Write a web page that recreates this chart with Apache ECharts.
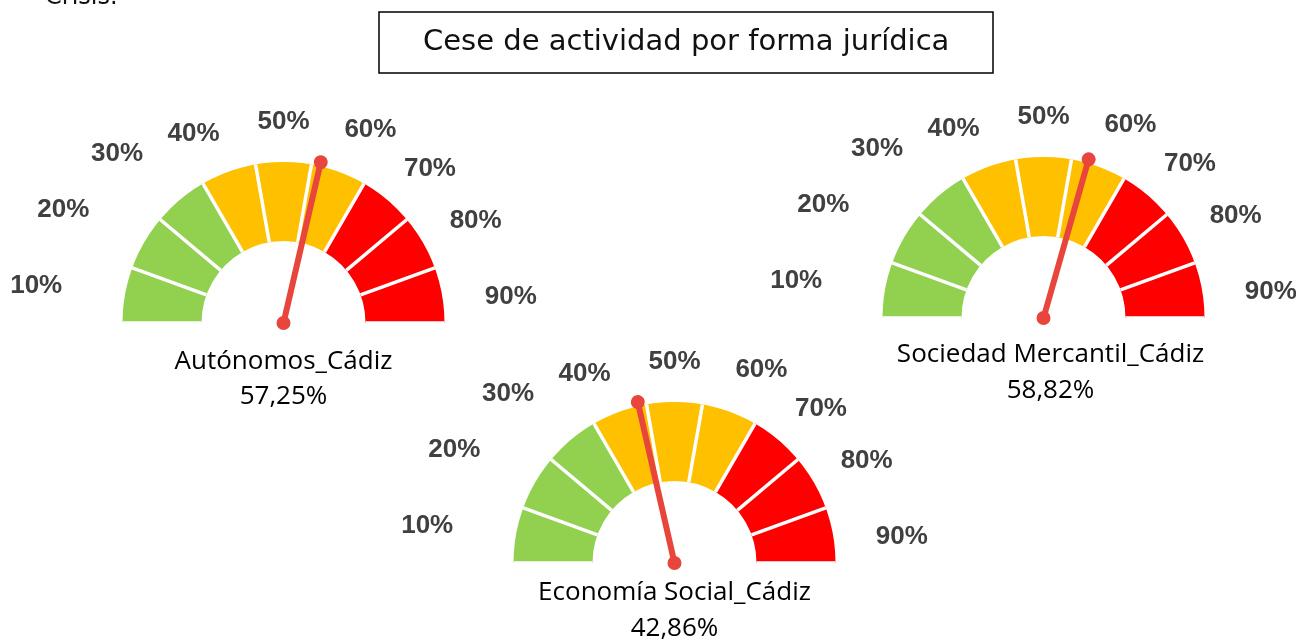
<!DOCTYPE html>
<html>
<head>
<meta charset="utf-8">
<script src="https://cdn.jsdelivr.net/npm/echarts@6/dist/echarts.min.js"></script>
<style>
  html, body { margin: 0; padding: 0; background: #fff; }
  #main { width: 1296px; height: 639px; }
</style>
</head>
<body>
<div id="main"></div>
<script>
// data
const names = ['Autónomos_Cádiz', 'Economía Social_Cádiz', 'Sociedad Mercantil_Cádiz'];
const values = [57.25, 42.86, 58.82];
const tickLabels = [10, 20, 30, 40, 50, 60, 70, 80, 90];
const bandStops = [1 / 3, 2 / 3, 1];
const bandColors = ['#92D050', '#FFC000', '#FF0000'];

// layout
const centers = [[283.5, 323], [674.5, 563], [1043.5, 318]];
const textOffsets = [[0, 39, 74], [0, 30, 66], [7, 37, 73]];
const R = 161;
const BAND = 79;
const NEEDLE = '#E8453C';
const labelFirstAngle = 170;
const labelLastAngle = 10;
const degPerUnit = (labelFirstAngle - labelLastAngle) / (tickLabels[tickLabels.length - 1] - tickLabels[0]);
// small nudges so the tick labels sit like the original ones
const labelPads = {
  10: [0, 46, 13, 0], 20: [0, 40, 11, 0], 30: [0, 26, 20, 0],
  40: [0, 3, 9, 0], 50: [0, 0, 10, 0], 60: [0, 0, 13, 0],
  70: [0, 0, 5, 6], 80: [0, 0, 0, 12], 90: [10, 0, 0, 26]
};

const chart = echarts.init(document.getElementById('main'));

const fmtPct = v => v.toFixed(2).replace('.', ',') + '%';

const tickFont = { color: '#404040', fontFamily: 'Liberation Sans', fontWeight: 'bold', fontSize: 26 };
const rich = {};
tickLabels.forEach(t => {
  rich['t' + t] = Object.assign({ padding: labelPads[t] }, tickFont);
});

const polar = [], angleAxis = [], radiusAxis = [], series = [];
centers.forEach((c, i) => {
  polar.push({ center: c, radius: 178 });
  angleAxis.push({
    polarIndex: i,
    type: 'value',
    startAngle: labelFirstAngle,
    clockwise: true,
    min: tickLabels[0],
    max: tickLabels[0] + 360 / degPerUnit,
    interval: tickLabels[1] - tickLabels[0],
    axisLine: { show: false },
    axisTick: { show: false },
    splitLine: { show: false },
    axisLabel: Object.assign({
      margin: 0,
      rich: rich,
      formatter: v => {
        const k = Math.round(v);
        return tickLabels.indexOf(k) >= 0 ? '{t' + k + '|' + k + '%}' : '';
      }
    }, tickFont)
  });
  radiusAxis.push({ polarIndex: i, show: false, min: 0, max: 1 });
  series.push({
    type: 'gauge',
    center: c,
    radius: R,
    startAngle: 180,
    endAngle: 0,
    min: 0,
    max: 100,
    splitNumber: tickLabels.length,
    axisLine: {
      lineStyle: {
        width: BAND,
        color: bandStops.map((s, k) => [s, bandColors[k]])
      }
    },
    splitLine: { show: true, length: BAND, distance: -BAND, lineStyle: { color: '#fff', width: 3.5 } },
    axisTick: { show: false },
    axisLabel: { show: false },
    pointer: {
      icon: 'path://M0 7A7 7 0 1 1 14 7A7 7 0 1 1 0 7ZM4 7L10 7L10 172L4 172Z',
      length: 172,
      width: 14,
      itemStyle: { color: NEEDLE }
    },
    anchor: { show: true, showAbove: true, size: 14, itemStyle: { color: NEEDLE } },
    title: {
      offsetCenter: [textOffsets[i][0], textOffsets[i][1]],
      color: '#000',
      fontFamily: 'Open Sans',
      fontSize: 26
    },
    detail: {
      offsetCenter: [textOffsets[i][0], textOffsets[i][2]],
      color: '#000',
      fontFamily: 'Open Sans',
      fontSize: 26,
      fontWeight: 'normal',
      formatter: fmtPct
    },
    data: [{ value: values[i], name: names[i] }]
  });
});

chart.setOption({
  animation: false,
  backgroundColor: '#fff',
  title: [
    {
      text: 'Cese de actividad por forma jurídica',
      left: 379,
      top: 12,
      padding: [14, 44],
      borderWidth: 1.5,
      borderColor: '#000',
      textStyle: { fontFamily: 'DejaVu Sans', fontWeight: 'normal', fontSize: 29, lineHeight: 33, color: '#111' }
    },
    {
      text: 'Crisis.',
      left: 45,
      top: -14,
      padding: 0,
      textStyle: { fontFamily: 'DejaVu Sans', fontWeight: 'normal', fontSize: 24, color: '#111' }
    }
  ],
  polar,
  angleAxis,
  radiusAxis,
  series
});
</script>
</body>
</html>
